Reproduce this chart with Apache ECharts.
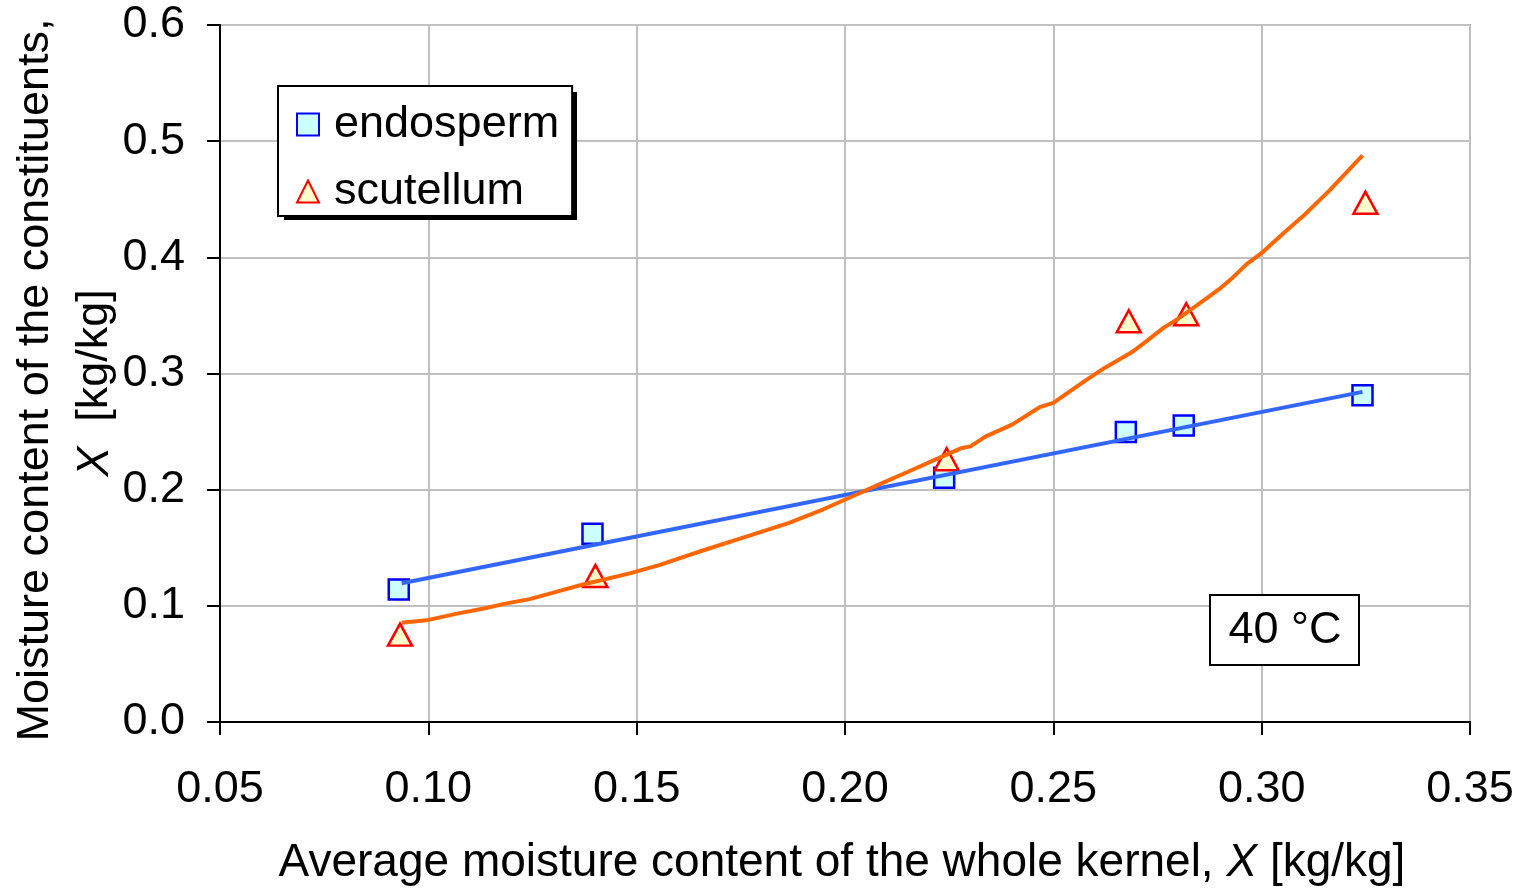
<!DOCTYPE html>
<html>
<head>
<meta charset="utf-8">
<script src="https://cdn.jsdelivr.net/npm/echarts@6/dist/echarts.min.js"></script>
<style>
html,body{margin:0;padding:0;background:#fff;}
#chart{width:1524px;height:889px;}
</style>
</head>
<body>
<div id="chart"></div>
<script>
// ---- data ----
var xTicks = [0.05, 0.10, 0.15, 0.20, 0.25, 0.30, 0.35];
var yTicks = [0.0, 0.1, 0.2, 0.3, 0.4, 0.5, 0.6];

var endoX = [0.0929, 0.1394, 0.2238, 0.2674, 0.2813, 0.3242];
var endoY = [0.1140, 0.1621, 0.2102, 0.2496, 0.2553, 0.2813];

var scutX = [0.0932, 0.1401, 0.2244, 0.2681, 0.2819, 0.3249];
var scutY = [0.0752, 0.1257, 0.2262, 0.3450, 0.3510, 0.4470];

var endoFitX = [0.0936, 0.3242];
var endoFitY = [0.1195, 0.2842];

var scutFitX = [0.0936, 0.0995, 0.1069, 0.1133, 0.1188, 0.1243, 0.1298, 0.1371, 0.1481, 0.1554,
                0.1655, 0.1765, 0.1866, 0.1948, 0.2021, 0.2085, 0.2150, 0.2214, 0.2278, 0.2301,
                0.2338, 0.2401, 0.2467, 0.2500, 0.2575, 0.2624, 0.2687, 0.2716, 0.2765, 0.2798,
                0.2865, 0.2898, 0.2931, 0.2964, 0.3002, 0.3055, 0.3105, 0.3163, 0.3242];
var scutFitY = [0.0854, 0.0875, 0.0933, 0.0977, 0.1021, 0.1058, 0.1111, 0.1184, 0.1277, 0.1350,
                0.1472, 0.1598, 0.1714, 0.1831, 0.1948, 0.2050, 0.2152, 0.2254, 0.2356, 0.2373,
                0.2459, 0.2560, 0.2710, 0.2747, 0.2934, 0.3050, 0.3180, 0.3257, 0.3395, 0.3467,
                0.3640, 0.3726, 0.3827, 0.3942, 0.4043, 0.4216, 0.4374, 0.4576, 0.4878];

function zip(a, b) { return a.map(function (v, i) { return [v, b[i]]; }); }

var FONT = 'Liberation Sans';
var FS = 45;
var chart = echarts.init(document.getElementById('chart'), null, {renderer: 'canvas'});

var option = {
  animation: false,
  backgroundColor: '#ffffff',
  textStyle: {fontFamily: FONT},
  grid: {
    left: 220, right: 54, top: 25, bottom: 167,
    show: true, borderColor: '#999999', borderWidth: 2, backgroundColor: 'transparent'
  },
  xAxis: {
    type: 'value',
    min: xTicks[0], max: xTicks[xTicks.length - 1], interval: 0.05,
    axisLine: {show: true, onZero: false, lineStyle: {color: '#000', width: 2}},
    axisTick: {show: true, inside: false, length: 13, lineStyle: {color: '#000', width: 2}},
    axisLabel: {
      margin: 45, color: '#000', fontSize: FS, fontFamily: FONT,
      formatter: function (v) { return v.toFixed(2); }
    },
    splitLine: {show: true, lineStyle: {color: '#c0c0c0', width: 2}}
  },
  yAxis: {
    type: 'value',
    min: yTicks[0], max: yTicks[yTicks.length - 1], interval: 0.1,
    axisLine: {show: true, onZero: false, lineStyle: {color: '#000', width: 2}},
    axisTick: {show: true, inside: false, length: 13, lineStyle: {color: '#000', width: 2}},
    axisLabel: {
      margin: 35, color: '#000', fontSize: FS, fontFamily: FONT,
      formatter: function (v) { return v.toFixed(1); }
    },
    splitLine: {show: true, lineStyle: {color: '#c0c0c0', width: 2}}
  },
  legend: {
    show: true,
    left: 278, top: 86,
    orient: 'vertical',
    z: 10,
    data: ['endosperm', 'scutellum'],
    backgroundColor: '#ffffff',
    borderColor: '#000000', borderWidth: 2,
    padding: [16, 13, 2, 18],
    itemWidth: 22, itemHeight: 22,
    itemGap: 22,
    textStyle: {fontSize: FS, fontFamily: FONT, color: '#000', lineHeight: 44, padding: [0, 0, 0, 10]}
  },
  graphic: [
    {
      type: 'rect',
      shape: {x: 284, y: 92, width: 293, height: 128},
      style: {fill: '#000'},
      z: 1
    },
    {
      type: 'text',
      style: {
        text: 'Moisture content of the constituents,',
        x: 36, y: 380, align: 'center', verticalAlign: 'middle',
        font: FS + 'px "Liberation Sans"', fill: '#000'
      },
      rotation: Math.PI / 2, originX: 36, originY: 380
    },
    {
      type: 'text',
      style: {
        text: '{i|X}  [kg/kg]',
        x: 95, y: 383, align: 'center', verticalAlign: 'middle',
        font: FS + 'px "Liberation Sans"', fill: '#000',
        rich: {i: {fontStyle: 'italic', fontSize: FS, fontFamily: FONT, fill: '#000'}}
      },
      rotation: Math.PI / 2, originX: 95, originY: 383
    },
    {
      type: 'text',
      style: {
        text: 'Average moisture content of the whole kernel, {i|X} [kg/kg]',
        x: 842, y: 863, align: 'center', verticalAlign: 'middle',
        font: '46px "Liberation Sans"', fill: '#000',
        rich: {i: {fontStyle: 'italic', fontSize: 46, fontFamily: FONT, fill: '#000'}}
      }
    },
    {
      type: 'rect',
      shape: {x: 1210, y: 595, width: 149, height: 70},
      style: {fill: '#fff', stroke: '#000', lineWidth: 2},
      z: 100
    },
    {
      type: 'text',
      style: {
        text: '40 °C', x: 1285, y: 631, align: 'center', verticalAlign: 'middle',
        font: FS + 'px "Liberation Sans"', fill: '#000'
      },
      z: 101
    }
  ],
  series: [
    {
      name: 'endosperm fit', type: 'line',
      data: zip(endoFitX, endoFitY),
      showSymbol: false, symbol: 'none',
      lineStyle: {color: '#3366ff', width: 4},
      z: 3, silent: true
    },
    {
      name: 'scutellum fit', type: 'line',
      data: zip(scutFitX, scutFitY),
      showSymbol: false, symbol: 'none',
      lineStyle: {color: '#ff6600', width: 4},
      z: 3, silent: true
    },
    {
      name: 'endosperm', type: 'scatter',
      data: zip(endoX, endoY),
      symbol: 'rect', symbolSize: 20,
      itemStyle: {color: '#ccffff', borderColor: '#0000ff', borderWidth: 2.5, opacity: 1},
      z: 2
    },
    {
      name: 'scutellum', type: 'scatter',
      data: zip(scutX, scutY),
      symbol: 'triangle', symbolSize: [24, 22],
      itemStyle: {color: '#ffffcc', borderColor: '#ff0000', borderWidth: 2.5, opacity: 1},
      z: 2
    }
  ]
};
chart.setOption(option);
</script>
</body>
</html>
